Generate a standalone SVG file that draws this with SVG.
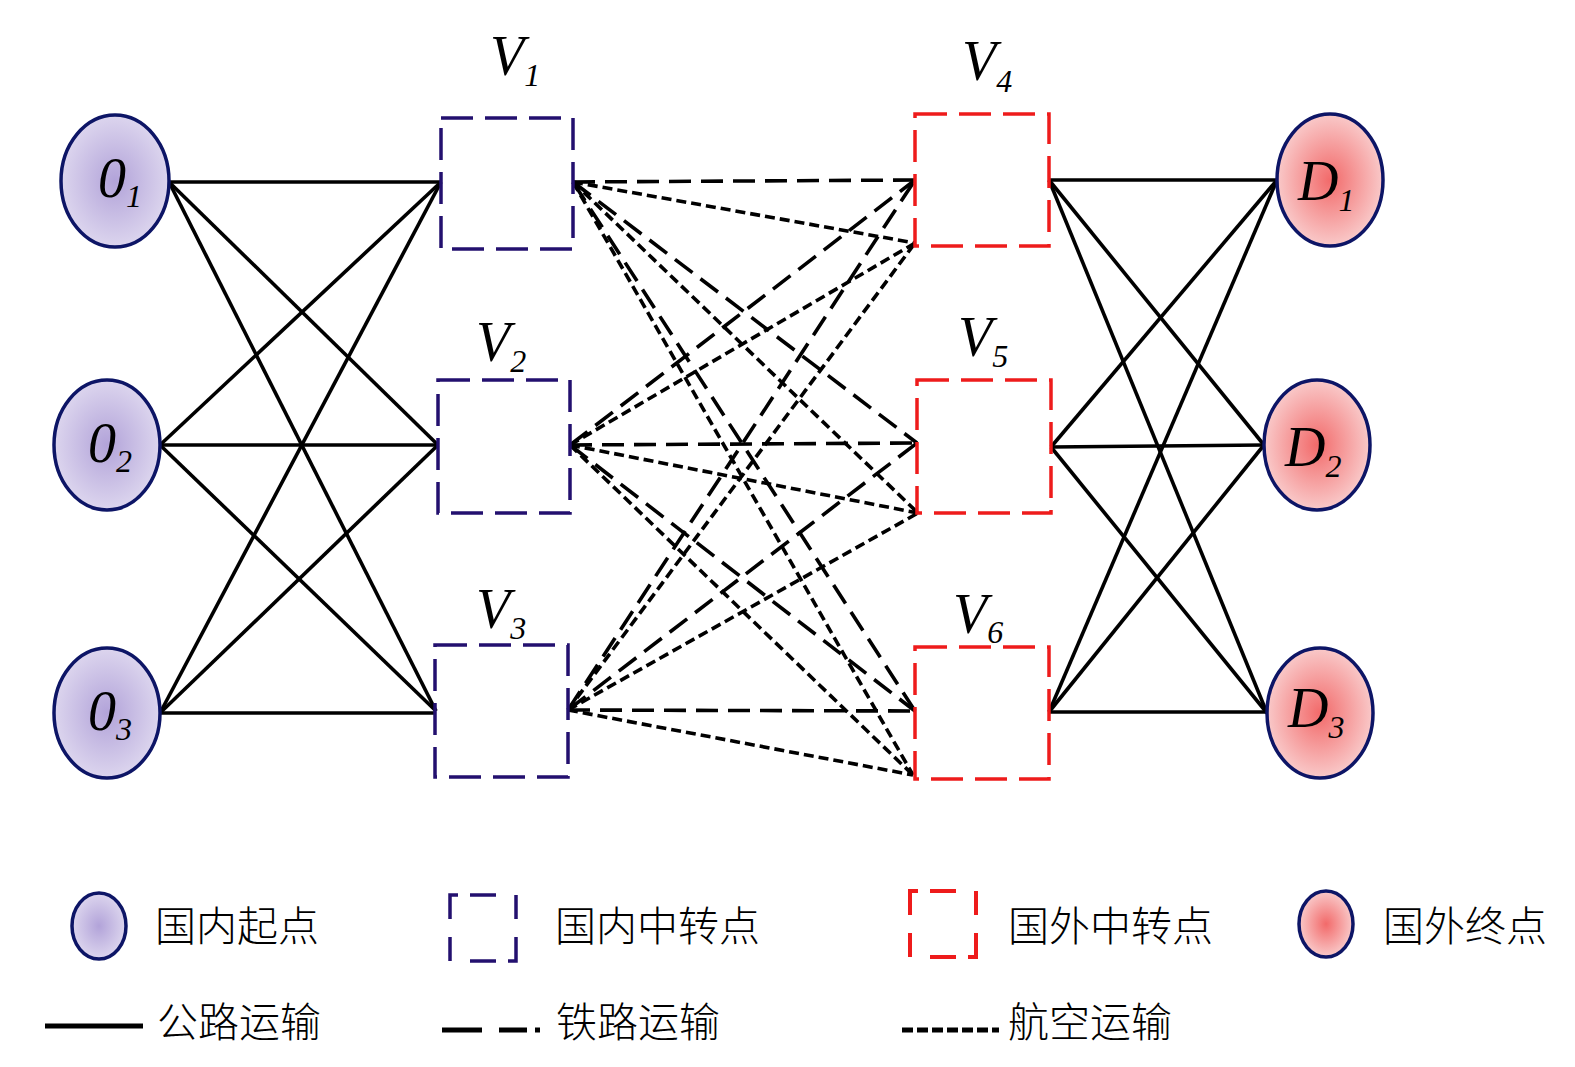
<svg xmlns="http://www.w3.org/2000/svg" width="1575" height="1067" viewBox="0 0 1575 1067">
<defs>
<radialGradient id="gPurple" cx="50%" cy="50%" r="50%">
<stop offset="0" stop-color="#b2a3d9"/>
<stop offset="1" stop-color="#dcd5ee"/>
</radialGradient>
<radialGradient id="gPink" cx="50%" cy="50%" r="50%">
<stop offset="0" stop-color="#f26a6a"/>
<stop offset="1" stop-color="#f9c9c9"/>
</radialGradient>
</defs>
<style>
.o{fill:url(#gPurple);stroke:#0d1566;stroke-width:3.5}
.d{fill:url(#gPink);stroke:#0d1566;stroke-width:3.5}
.vb{fill:none;stroke:#23106f;stroke-width:3.5;stroke-dasharray:32 12}
.vr{fill:none;stroke:#ee1b1b;stroke-width:3.5;stroke-dasharray:32 12}
.road{stroke:#000;stroke-width:3.6;fill:none}
.rail{stroke:#000;stroke-width:3.6;fill:none;stroke-dasharray:22 10}
.air{stroke:#000;stroke-width:3.6;fill:none;stroke-dasharray:10 5}
.lbl{font-family:"Liberation Serif","Times New Roman",serif;font-style:italic;font-size:56px;fill:#000}
.sub{font-size:32px}
.leg{font-family:"Noto Sans CJK SC","Noto Sans",sans-serif;font-size:41px;fill:#000;font-weight:300}
</style>

<g id="connectors">
<line class="road" x1="169" y1="182" x2="441" y2="182"/>
<line class="road" x1="169" y1="182" x2="438" y2="445"/>
<line class="road" x1="169" y1="182" x2="436" y2="711"/>
<line class="road" x1="160" y1="445" x2="441" y2="182"/>
<line class="road" x1="160" y1="445" x2="438" y2="445"/>
<line class="road" x1="160" y1="445" x2="436" y2="711"/>
<line class="road" x1="160" y1="713" x2="441" y2="182"/>
<line class="road" x1="160" y1="713" x2="438" y2="445"/>
<line class="road" x1="160" y1="713" x2="436" y2="713"/>
<line class="road" x1="1049" y1="180" x2="1277" y2="180"/>
<line class="road" x1="1049" y1="180" x2="1264" y2="445"/>
<line class="road" x1="1049" y1="180" x2="1267" y2="713"/>
<line class="road" x1="1051" y1="447" x2="1277" y2="180"/>
<line class="road" x1="1051" y1="447" x2="1264" y2="445"/>
<line class="road" x1="1051" y1="447" x2="1267" y2="713"/>
<line class="road" x1="1049" y1="712" x2="1277" y2="180"/>
<line class="road" x1="1049" y1="712" x2="1264" y2="445"/>
<line class="road" x1="1049" y1="712" x2="1267" y2="712"/>
<line class="rail" x1="573" y1="182" x2="915" y2="180"/>
<line class="rail" x1="573" y1="182" x2="917" y2="443"/>
<line class="rail" x1="573" y1="182" x2="915" y2="711"/>
<line class="rail" x1="570" y1="445" x2="915" y2="180"/>
<line class="rail" x1="570" y1="445" x2="917" y2="443"/>
<line class="rail" x1="570" y1="445" x2="915" y2="711"/>
<line class="rail" x1="568" y1="710" x2="915" y2="180"/>
<line class="rail" x1="568" y1="710" x2="917" y2="443"/>
<line class="rail" x1="568" y1="710" x2="915" y2="711"/>
<line class="air" x1="573" y1="182" x2="915" y2="243"/>
<line class="air" x1="573" y1="182" x2="918" y2="513"/>
<line class="air" x1="573" y1="182" x2="913" y2="775"/>
<line class="air" x1="570" y1="445" x2="915" y2="243"/>
<line class="air" x1="570" y1="445" x2="918" y2="513"/>
<line class="air" x1="570" y1="445" x2="913" y2="775"/>
<line class="air" x1="568" y1="710" x2="915" y2="243"/>
<line class="air" x1="568" y1="710" x2="918" y2="513"/>
<line class="air" x1="568" y1="710" x2="913" y2="775"/>
</g>

<g id="O1"><ellipse class="o" cx="115" cy="181" rx="54" ry="66"/><text class="lbl" x="98" y="197">0<tspan class="sub" dy="10">1</tspan></text></g>
<g id="O2"><ellipse class="o" cx="107" cy="445" rx="53" ry="65"/><text class="lbl" x="88" y="462">0<tspan class="sub" dy="10">2</tspan></text></g>
<g id="O3"><ellipse class="o" cx="107" cy="713" rx="53" ry="65"/><text class="lbl" x="88" y="730">0<tspan class="sub" dy="10">3</tspan></text></g>

<g id="V1"><rect class="vb" x="441" y="118" width="132" height="131"/><text class="lbl" x="490" y="75">V<tspan class="sub" dy="11">1</tspan></text></g>
<g id="V2"><rect class="vb" x="438" y="380" width="132" height="133"/><text class="lbl" x="476" y="361">V<tspan class="sub" dy="11">2</tspan></text></g>
<g id="V3"><rect class="vb" x="435" y="645" width="133" height="132"/><text class="lbl" x="476" y="628">V<tspan class="sub" dy="11">3</tspan></text></g>

<g id="V4"><rect class="vr" x="915" y="114" width="134" height="132"/><text class="lbl" x="962" y="80">V<tspan class="sub" dy="12">4</tspan></text></g>
<g id="V5"><rect class="vr" x="917" y="380" width="134" height="133"/><text class="lbl" x="958" y="356">V<tspan class="sub" dy="11">5</tspan></text></g>
<g id="V6"><rect class="vr" x="915" y="647" width="134" height="132"/><text class="lbl" x="953" y="633">V<tspan class="sub" dy="10">6</tspan></text></g>

<g id="D1"><ellipse class="d" cx="1330" cy="180" rx="53" ry="66"/><text class="lbl" x="1298" y="200">D<tspan class="sub" dy="11">1</tspan></text></g>
<g id="D2"><ellipse class="d" cx="1317" cy="445" rx="53" ry="65"/><text class="lbl" x="1285" y="466">D<tspan class="sub" dy="11">2</tspan></text></g>
<g id="D3"><ellipse class="d" cx="1320" cy="713" rx="53" ry="65"/><text class="lbl" x="1288" y="727">D<tspan class="sub" dy="11">3</tspan></text></g>

<g id="legend">
<ellipse class="o" cx="99" cy="926" rx="27" ry="33"/>
<text class="leg" x="155" y="941">国内起点</text>
<path d="M450,895 h66 v66 h-66 z" fill="none" stroke="#23106f" stroke-width="3.5" stroke-dasharray="8 12 26 20 24 18 32 12 26 20 24 18 24"/>
<text class="leg" x="555" y="941">国内中转点</text>
<path d="M910,891 h66 v66 h-66 z" fill="none" stroke="#ee1b1b" stroke-width="4" stroke-dasharray="8 12 26 20 24 18 32 12 26 20 24 18 24"/>
<text class="leg" x="1008" y="941">国外中转点</text>
<ellipse class="d" cx="1326" cy="924" rx="27" ry="33"/>
<text class="leg" x="1383" y="941">国外终点</text>
<line x1="45" y1="1026" x2="143" y2="1026" stroke="#000" stroke-width="5"/>
<text class="leg" x="157" y="1037">公路运输</text>
<line x1="442" y1="1030" x2="540" y2="1030" stroke="#000" stroke-width="5" stroke-dasharray="40 17 28 8 5 100"/>
<text class="leg" x="556" y="1037">铁路运输</text>
<line x1="902" y1="1030" x2="999" y2="1030" stroke="#000" stroke-width="5" stroke-dasharray="11 4"/>
<text class="leg" x="1008" y="1037">航空运输</text>
</g>
</svg>
